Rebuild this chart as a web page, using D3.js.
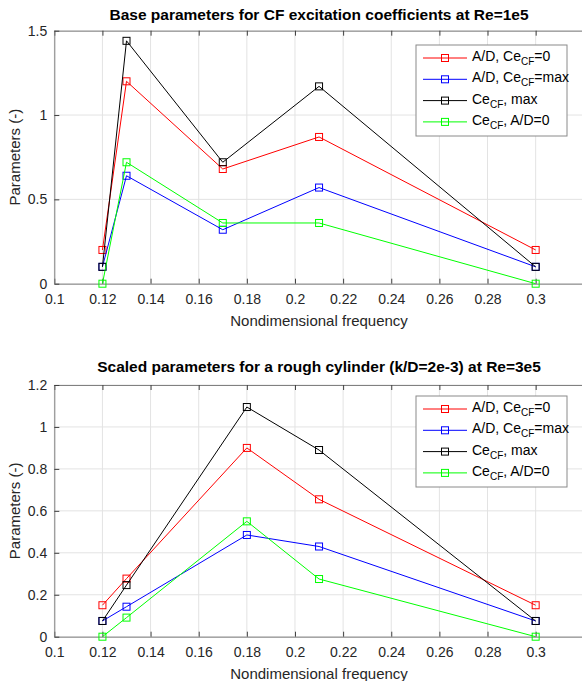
<!DOCTYPE html>
<html><head><meta charset="utf-8">
<script src="https://cdn.jsdelivr.net/npm/d3@7"></script>
<style>body{margin:0;background:#fff}svg{display:block;font-family:"Liberation Sans",Arial,sans-serif}</style>
</head><body><svg id="c" width="582" height="681"></svg>
<script>
const xTicks = [0.1,0.12,0.14,0.16,0.18,0.2,0.22,0.24,0.26,0.28,0.3,0.32];
const xTickLabels = ["0.1","0.12","0.14","0.16","0.18","0.2","0.22","0.24","0.26","0.28","0.3",""];
const seriesNames = ["A/D, Ce|CF|=0","A/D, Ce|CF|=max","Ce|CF|, max","Ce|CF|, A/D=0"];
const seriesColors = ["#ff0000","#0000ff","#000000","#00ff00"];

// Top chart
const topTitle = "Base parameters for CF excitation coefficients at Re=1e5";
const topX = [0.12,0.13,0.17,0.21,0.3];
const topRed = [0.2,1.2,0.68,0.87,0.2];
const topBlue = [0.1,0.64,0.32,0.57,0.1];
const topBlack = [0.1,1.44,0.72,1.17,0.1];
const topGreen = [0,0.72,0.36,0.36,0];
const topYTicks = [0,0.5,1,1.5];
const topYLabels = ["0","0.5","1","1.5"];

// Bottom chart
const botTitle = "Scaled parameters for a rough cylinder (k/D=2e-3) at Re=3e5";
const botX = [0.12,0.13,0.18,0.21,0.3];
const botRed = [0.15,0.277,0.9,0.655,0.15];
const botBlue = [0.075,0.143,0.485,0.43,0.075];
const botBlack = [0.075,0.246,1.095,0.89,0.075];
const botGreen = [0,0.091,0.55,0.275,0];
const botYTicks = [0,0.2,0.4,0.6,0.8,1,1.2];
const botYLabels = ["0","0.2","0.4","0.6","0.8","1","1.2"];

const svg = d3.select("#c");

function addRich(sel, str){
  const parts = str.split("|");
  parts.forEach((p,i)=>{
    if(p==="") return;
    const t = sel.append("tspan").text(p);
    if(i%2===1){ t.attr("font-size",10).attr("dy",4); }
    else if(i>0){ t.attr("dy",-4); }
  });
}

function drawChart(cfg){
  const g = svg.append("g");
  const x = d3.scaleLinear().domain([0.1,0.32]).range([54.3,583.8]);
  const y = d3.scaleLinear().domain([0,cfg.ymax]).range([cfg.y0,cfg.y1]);
  const L = 54.3, R = 583.8, T = cfg.y1, B = cfg.y0;
  // grid
  g.append("g").selectAll("line").data(xTicks).join("line")
    .attr("x1",d=>x(d)).attr("x2",d=>x(d)).attr("y1",T).attr("y2",B)
    .attr("stroke","#e3e3e3").attr("stroke-width",1);
  g.append("g").selectAll("line").data(cfg.yTicks).join("line")
    .attr("x1",L).attr("x2",R).attr("y1",d=>y(d)).attr("y2",d=>y(d))
    .attr("stroke","#e3e3e3").attr("stroke-width",1);
  // axes
  const xa = g.append("g").attr("transform",`translate(0,${B})`)
    .call(d3.axisBottom(x).tickValues(xTicks).tickSizeInner(-5).tickSizeOuter(0).tickPadding(10)
      .tickFormat((d,i)=>xTickLabels[i]));
  const xt = g.append("g").attr("transform",`translate(0,${T})`)
    .call(d3.axisTop(x).tickValues(xTicks).tickSizeInner(-5).tickSizeOuter(0).tickFormat(""));
  const ya = g.append("g").attr("transform",`translate(${L},0)`)
    .call(d3.axisLeft(y).tickValues(cfg.yTicks).tickSizeInner(-5).tickSizeOuter(0).tickPadding(7)
      .tickFormat((d,i)=>cfg.yLabels[i]));
  [xa,xt,ya].forEach(a=>{
    a.select(".domain").attr("stroke","#808080");
    a.selectAll(".tick line").attr("stroke","#404040");
    a.selectAll("text").attr("fill","#262626").attr("font-size",14).attr("font-family","Liberation Sans, Arial, sans-serif");
  });
  // series
  const sets = cfg.series;
  sets.forEach((vals,si)=>{
    const pts = cfg.xs.map((xv,i)=>[x(xv),y(vals[i])]);
    g.append("path").attr("d",d3.line()(pts)).attr("fill","none")
      .attr("stroke",seriesColors[si]).attr("stroke-width",1);
    g.append("g").selectAll("rect").data(pts).join("rect")
      .attr("x",d=>d[0]-3.5).attr("y",d=>d[1]-3.5).attr("width",7).attr("height",7)
      .attr("fill","none").attr("stroke",seriesColors[si]).attr("stroke-width",1);
  });
  // title
  g.append("text").attr("x",(L+R)/2).attr("y",cfg.titleY).attr("text-anchor","middle")
    .attr("font-weight","bold").attr("font-size",15.5).attr("fill","#000").text(cfg.title);
  // x label
  g.append("text").attr("x",(L+R)/2).attr("y",B+42).attr("text-anchor","middle")
    .attr("font-size",15).attr("fill","#262626").text("Nondimensional frequency");
  // y label
  g.append("text").attr("transform",`translate(20,${(T+B)/2}) rotate(-90)`).attr("text-anchor","middle")
    .attr("font-size",15).attr("fill","#262626").text("Parameters (-)");
  // legend
  const lx = 416, lw = 151, ly = cfg.legY, lh = 91;
  const lg = g.append("g");
  lg.append("rect").attr("x",lx).attr("y",ly).attr("width",lw).attr("height",lh)
    .attr("fill","#fff").attr("stroke","#8a8a8a").attr("stroke-width",1);
  seriesNames.forEach((nm,i)=>{
    const ey = ly + 13 + i*21.3;
    lg.append("line").attr("x1",lx+7).attr("x2",lx+51).attr("y1",ey).attr("y2",ey)
      .attr("stroke",seriesColors[i]).attr("stroke-width",1);
    lg.append("rect").attr("x",lx+29-3.5).attr("y",ey-3.5).attr("width",7).attr("height",7)
      .attr("fill","none").attr("stroke",seriesColors[i]).attr("stroke-width",1);
    const t = lg.append("text").attr("x",lx+56).attr("y",ey+3).attr("font-size",14).attr("fill","#000");
    addRich(t,nm);
  });
}

drawChart({title:topTitle,titleY:20,xs:topX,series:[topRed,topBlue,topBlack,topGreen],
  ymax:1.5,y0:283.7,y1:30.7,yTicks:topYTicks,yLabels:topYLabels,legY:45});
drawChart({title:botTitle,titleY:372,xs:botX,series:[botRed,botBlue,botBlack,botGreen],
  ymax:1.2,y0:636.7,y1:385,yTicks:botYTicks,yLabels:botYLabels,legY:396});
</script></body></html>
